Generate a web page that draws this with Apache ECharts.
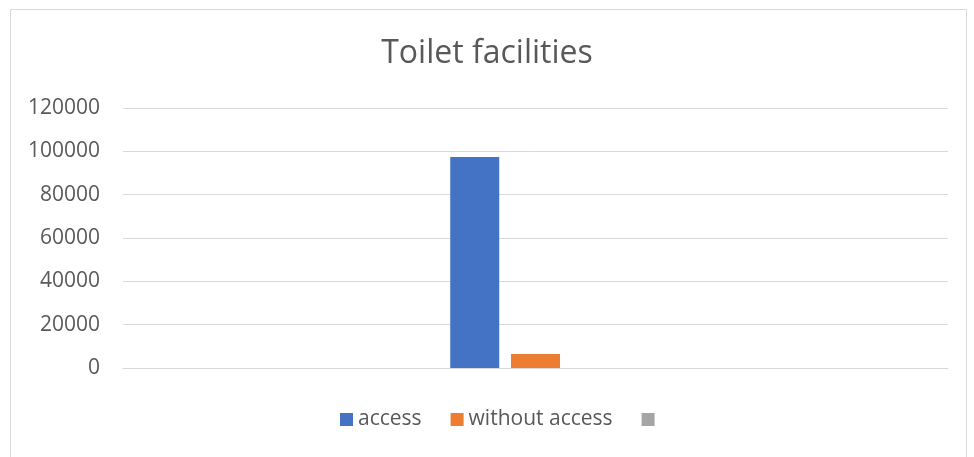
<!DOCTYPE html>
<html>
<head>
<meta charset="utf-8">
<script src="https://cdn.jsdelivr.net/npm/echarts@6/dist/echarts.min.js"></script>
<style>
html, body { margin: 0; padding: 0; background: #fff; }
#chart { width: 974px; height: 457px; }
</style>
</head>
<body>
<div id="chart"></div>
<script>
var categories = [''];
var seriesNames = ['access', 'without access', ' '];
var accessData = [97400];
var withoutData = [6500];
var otherData = [null];
var yTicks = { min: 0, max: 120000, interval: 20000 };

var chart = echarts.init(document.getElementById('chart'));
var font = '"Open Sans", sans-serif';
var option = {
    color: ['#4472C4', '#ED7D31', '#A5A5A5'],
    textStyle: { fontFamily: font },
    title: {
        text: 'Toilet facilities',
        left: 'center',
        top: 33,
        textStyle: { fontSize: 32, fontWeight: 'normal', color: '#595959', fontFamily: font }
    },
    legend: {
        data: seriesNames,
        bottom: 22,
        left: 335,
        icon: 'rect',
        itemWidth: 13,
        itemHeight: 13,
        itemGap: 29,
        textStyle: { fontSize: 21, color: '#595959', fontFamily: font }
    },
    grid: { left: 123, right: 26, top: 108, bottom: 89 },
    xAxis: {
        type: 'category',
        data: categories,
        axisLine: { lineStyle: { color: '#D9D9D9' } },
        axisTick: { show: false },
        axisLabel: { show: false }
    },
    yAxis: {
        type: 'value',
        min: yTicks.min,
        max: yTicks.max,
        interval: yTicks.interval,
        axisLine: { show: false },
        axisTick: { show: false },
        axisLabel: {
            fontSize: 21, color: '#595959', margin: 23, fontFamily: font,
            formatter: function (v) { return String(v); }
        },
        splitLine: { lineStyle: { color: '#D9D9D9', width: 1 } }
    },
    graphic: [{
        type: 'rect',
        shape: { x: 10.5, y: 9.5, width: 956, height: 460 },
        style: { fill: 'none', stroke: '#D9D9D9', lineWidth: 1 },
        silent: true
    }],
    series: [
        { name: seriesNames[0], type: 'bar', data: accessData, barWidth: 49, barGap: '24%' },
        { name: seriesNames[1], type: 'bar', data: withoutData, barWidth: 49, barGap: '24%' },
        { name: seriesNames[2], type: 'bar', data: otherData, barWidth: 49, barGap: '24%' }
    ]
};
chart.setOption(option);
</script>
</body>
</html>
